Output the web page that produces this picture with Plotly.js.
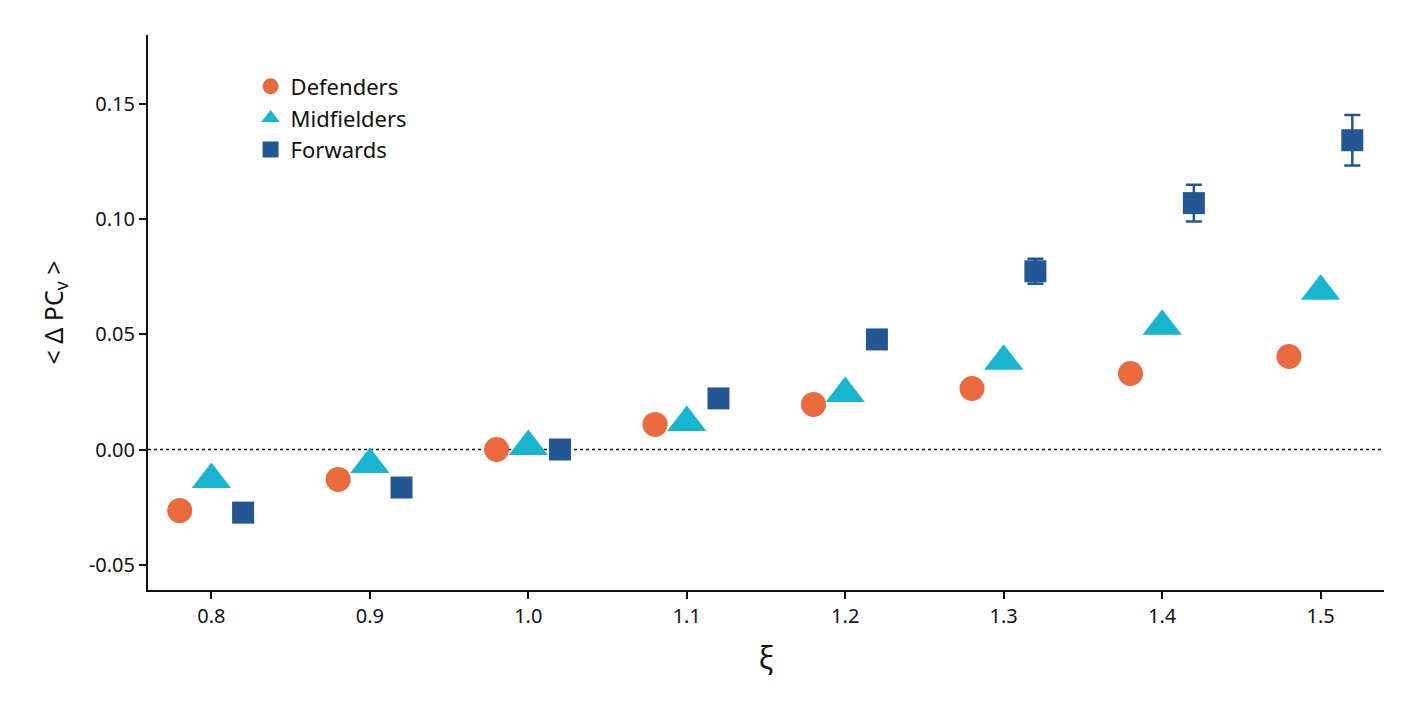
<!DOCTYPE html>
<html>
<head>
<meta charset="utf-8">
<script src="https://cdn.plot.ly/plotly-3.0.1.min.js"></script>
<style>
  html, body { margin: 0; padding: 0; background: white; }
  #chart { width: 1420px; height: 710px; }
</style>
</head>
<body>
<div id="chart"></div>
<script>
  // values
  const xiDef = [0.78, 0.88, 0.98, 1.08, 1.18, 1.28, 1.38, 1.48];
  const defenders = [-0.0265, -0.013, 0.0, 0.0109, 0.0196, 0.0265, 0.033, 0.0404];

  const xiMid = [0.8, 0.9, 1.0, 1.1, 1.2, 1.3, 1.4, 1.5];
  const midfielders = [-0.013, -0.0065, 0.0013, 0.0117, 0.0243, 0.0383, 0.0535, 0.0687];

  const xiFwd = [0.82, 0.92, 1.02, 1.12, 1.22, 1.32, 1.42, 1.52];
  const forwards = [-0.0274, -0.0165, 0.0, 0.0222, 0.0478, 0.0774, 0.107, 0.1343];
  const forwardsErr = [0, 0, 0, 0, 0, 0.0054, 0.008, 0.011];

  const font = "Noto Sans, Open Sans, sans-serif";

  const traces = [
    {
      type: "scatter", mode: "markers", name: "Defenders",
      x: xiDef, y: defenders,
      marker: { symbol: "circle", size: 25, color: "#EA6A3D" }
    },
    {
      type: "scatter", mode: "markers", name: "Midfielders",
      x: xiMid, y: midfielders,
      marker: { symbol: "triangle-up", size: 34, color: "#17B5CF" }
    },
    {
      type: "scatter", mode: "markers", name: "Forwards",
      x: xiFwd, y: forwards,
      error_y: { type: "data", array: forwardsErr, visible: true, color: "#235793", thickness: 2.5, width: 8 },
      marker: { symbol: "square", size: 22, color: "#235793" }
    }
  ];

  const layout = {
    width: 1420,
    height: 710,
    margin: { l: 148, r: 36, t: 35, b: 120 },
    paper_bgcolor: "white",
    plot_bgcolor: "white",
    font: { family: font, size: 20, color: "#111" },
    showlegend: true,
    legend: {
      x: 0.083, y: 0.945, xanchor: "left", yanchor: "top",
      font: { size: 22, family: font },
      tracegroupgap: 0,
      bgcolor: "rgba(0,0,0,0)"
    },
    xaxis: {
      range: [0.76, 1.54],
      tickvals: [0.8, 0.9, 1.0, 1.1, 1.2, 1.3, 1.4, 1.5],
      ticktext: ["0.8", "0.9", "1.0", "1.1", "1.2", "1.3", "1.4", "1.5"],
      ticks: "outside", ticklen: 7, tickwidth: 2, tickcolor: "#111",
      showline: true, linewidth: 2, linecolor: "#111",
      showgrid: false, zeroline: false,
      title: { text: "ξ", font: { size: 30 }, standoff: 20 }
    },
    yaxis: {
      range: [-0.061, 0.18],
      tickvals: [-0.05, 0.0, 0.05, 0.1, 0.15],
      ticktext: ["-0.05", "0.00", "0.05", "0.10", "0.15"],
      ticks: "outside", ticklen: 7, tickwidth: 2, tickcolor: "#111",
      showline: true, linewidth: 2, linecolor: "#111",
      showgrid: false, zeroline: false,
      title: { text: "< Δ PC<sub>v</sub> >", font: { size: 25 }, standoff: 18 }
    },
    shapes: [{
      type: "line", xref: "paper", x0: 0, x1: 1, yref: "y", y0: 0, y1: 0,
      line: { color: "#111", width: 1.5, dash: "dot" },
      layer: "below"
    }]
  };

  Plotly.newPlot("chart", traces, layout, { displayModeBar: false });
</script>
</body>
</html>
